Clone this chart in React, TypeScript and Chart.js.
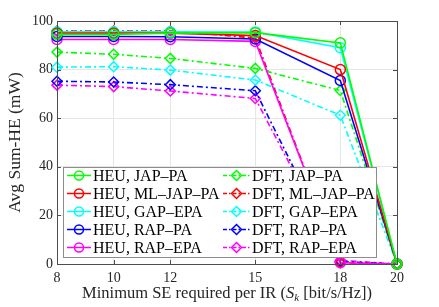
import React, { useEffect, useRef } from 'react';
import { Chart, registerables } from 'chart.js';
Chart.register(...registerables);

const seValues = [8, 10, 12, 15, 18, 20];
const yTickValues = [0, 20, 40, 60, 80, 100];

const heuJapPa = [94.5, 94.5, 95, 95.2, 91, 0];
const heuMlJapPa = [95, 95, 95, 94, 80, 0];
const heuGapEpa = [95.6, 95.6, 95.6, 95.5, 89, 0];
const heuRapPa = [93.6, 93.6, 93.5, 92.6, 75.5, 0];
const heuRapEpa = [92.4, 92.4, 92.4, 91.6, 0.5, 0];
const dftJapPa = [87.2, 86.3, 84.6, 80.5, 71.4, 0];
const dftMlJapPa = [95.9, 95.9, 95.9, 93, 0.5, 0];
const dftGapEpa = [81, 81.2, 79.8, 75.7, 61.2, 0];
const dftRapPa = [75.2, 74.9, 73.8, 71.3, 1, 0];
const dftRapEpa = [73.6, 73, 71.2, 68.1, 1.5, 0];

const seriesLabels = [
  'HEU, JAP–PA', 'HEU, ML–JAP–PA', 'HEU, GAP–EPA', 'HEU, RAP–PA', 'HEU, RAP–EPA',
  'DFT, JAP–PA', 'DFT, ML–JAP–PA', 'DFT, GAP–EPA', 'DFT, RAP–PA', 'DFT, RAP–EPA',
];
const seriesValues = [heuJapPa, heuMlJapPa, heuGapEpa, heuRapPa, heuRapEpa, dftJapPa, dftMlJapPa, dftGapEpa, dftRapPa, dftRapEpa];
const seriesColors = ['#00ff00', '#ff0000', '#00ffff', '#0000ff', '#ff00ff'];

const SERIF = '"Liberation Serif", "DejaVu Serif", serif';
const DASH = [6, 3, 2, 3];

const decorPlugin = {
  id: 'decor',
  afterDraw(chart: any) {
    const ctx = chart.ctx as CanvasRenderingContext2D;
    const ca = chart.chartArea;
    const xs = chart.scales.x;
    const ys = chart.scales.y;
    ctx.save();
    // box
    ctx.strokeStyle = '#4d4d4d';
    ctx.lineWidth = 1;
    ctx.setLineDash([]);
    ctx.strokeRect(Math.round(ca.left) + 0.5, Math.round(ca.top) + 0.5, Math.round(ca.right - ca.left), Math.round(ca.bottom - ca.top));
    // inward ticks
    ctx.beginPath();
    for (const v of seValues) {
      const px = Math.round(xs.getPixelForValue(v)) + 0.5;
      ctx.moveTo(px, ca.bottom); ctx.lineTo(px, ca.bottom - 4);
      ctx.moveTo(px, ca.top); ctx.lineTo(px, ca.top + 4);
    }
    for (const v of yTickValues) {
      const py = Math.round(ys.getPixelForValue(v)) + 0.5;
      ctx.moveTo(ca.left, py); ctx.lineTo(ca.left + 4, py);
      ctx.moveTo(ca.right, py); ctx.lineTo(ca.right - 4, py);
    }
    ctx.stroke();

    // legend
    const bx = 63.5, by = 167.5, bw = 313, bh = 90;
    ctx.fillStyle = '#ffffff';
    ctx.fillRect(bx, by, bw, bh);
    ctx.strokeStyle = '#8c8c8c';
    ctx.strokeRect(bx, by, bw, bh);
    ctx.font = `16px ${SERIF}`;
    ctx.textBaseline = 'middle';
    ctx.textAlign = 'left';
    for (let i = 0; i < seriesLabels.length; i++) {
      const col = i < 5 ? 0 : 1;
      const row = i % 5;
      const cy = 175.5 + row * 18;
      const x0 = col === 0 ? 67 : 223;
      const x1 = col === 0 ? 91 : 250;
      const color = seriesColors[row];
      ctx.strokeStyle = color;
      ctx.lineWidth = 1.5;
      ctx.setLineDash(col === 0 ? [] : [4, 2, 1.5, 2]);
      ctx.beginPath(); ctx.moveTo(x0, cy); ctx.lineTo(x1, cy); ctx.stroke();
      ctx.setLineDash([]);
      const mx = (x0 + x1) / 2;
      ctx.beginPath();
      if (col === 0) {
        ctx.arc(mx, cy, 4.5, 0, Math.PI * 2);
      } else {
        ctx.moveTo(mx, cy - 5); ctx.lineTo(mx + 5, cy); ctx.lineTo(mx, cy + 5); ctx.lineTo(mx - 5, cy); ctx.closePath();
      }
      ctx.stroke();
      ctx.fillStyle = '#000000';
      ctx.fillText(seriesLabels[i], x1 + 2, cy + 1);
    }

    // x title
    ctx.fillStyle = '#262626';
    ctx.textBaseline = 'alphabetic';
    const parts: [string, string, number][] = [
      ['Minimum SE required per IR (', `16.5px ${SERIF}`, 0],
      ['S', `italic 16.5px ${SERIF}`, 0],
      ['k', `italic 11px ${SERIF}`, 3],
      [' [bit/s/Hz])', `16.5px ${SERIF}`, 0],
    ];
    let total = 0;
    for (const [t, f] of parts) { ctx.font = f; total += ctx.measureText(t).width; }
    let cx = (ca.left + ca.right) / 2 - total / 2;
    const base = 298;
    for (const [t, f, dy] of parts) {
      ctx.font = f;
      ctx.fillText(t, cx, base + dy);
      cx += ctx.measureText(t).width;
    }
    // y title
    ctx.save();
    ctx.translate(15, (ca.top + ca.bottom) / 2);
    ctx.rotate(-Math.PI / 2);
    ctx.textAlign = 'center';
    ctx.textBaseline = 'middle';
    ctx.font = `17.5px ${SERIF}`;
    ctx.fillText('Avg Sum-HE (mW)', 0, 0);
    ctx.restore();
    ctx.restore();
  },
};

export default function App() {
  const ref = useRef<HTMLCanvasElement>(null);
  useEffect(() => {
    if (!ref.current) return;
    const datasets = seriesValues.map((vals, i) => {
      const isDft = i >= 5;
      const color = seriesColors[i % 5];
      return {
        label: seriesLabels[i],
        data: seValues.map((x, j) => ({ x, y: vals[j] })),
        borderColor: color,
        backgroundColor: 'rgba(0,0,0,0)',
        borderWidth: 1.6,
        borderDash: isDft ? DASH : [],
        pointStyle: isDft ? 'rectRot' : 'circle',
        pointRadius: 5,
        pointBorderWidth: 1.5,
        pointBackgroundColor: 'rgba(0,0,0,0)',
        pointBorderColor: color,
        tension: 0,
        clip: false as any,
      };
    });
    const chart = new Chart(ref.current, {
      type: 'line',
      data: { datasets },
      options: {
        responsive: false,
        animation: false,
        layout: { padding: { left: 0, right: 42, top: 21, bottom: 0 } },
        plugins: { legend: { display: false }, tooltip: { enabled: false } },
        scales: {
          x: {
            type: 'linear',
            min: 8,
            max: 20,
            afterBuildTicks: (s: any) => { s.ticks = seValues.map((v) => ({ value: v })); },
            afterFit: (s: any) => { s.height = 43; },
            grid: { color: '#e6e6e6', drawTicks: false, lineWidth: 1 },
            border: { display: false },
            ticks: { color: '#262626', font: { family: SERIF, size: 14 }, padding: 6, maxRotation: 0, autoSkip: false },
          },
          y: {
            type: 'linear',
            min: 0,
            max: 100,
            afterBuildTicks: (s: any) => { s.ticks = yTickValues.map((v) => ({ value: v })); },
            afterFit: (s: any) => { s.width = 57; },
            grid: { color: '#e6e6e6', drawTicks: false, lineWidth: 1 },
            border: { display: false },
            ticks: { color: '#262626', font: { family: SERIF, size: 14 }, padding: 4 },
          },
        },
      },
      plugins: [decorPlugin],
    });
    return () => chart.destroy();
  }, []);
  return (
    <div style={{ position: 'fixed', left: 0, top: 0, width: 439, height: 307, background: '#fff' }}>
      <canvas ref={ref} width={439} height={307} style={{ width: 439, height: 307, display: 'block' }} />
    </div>
  );
}
